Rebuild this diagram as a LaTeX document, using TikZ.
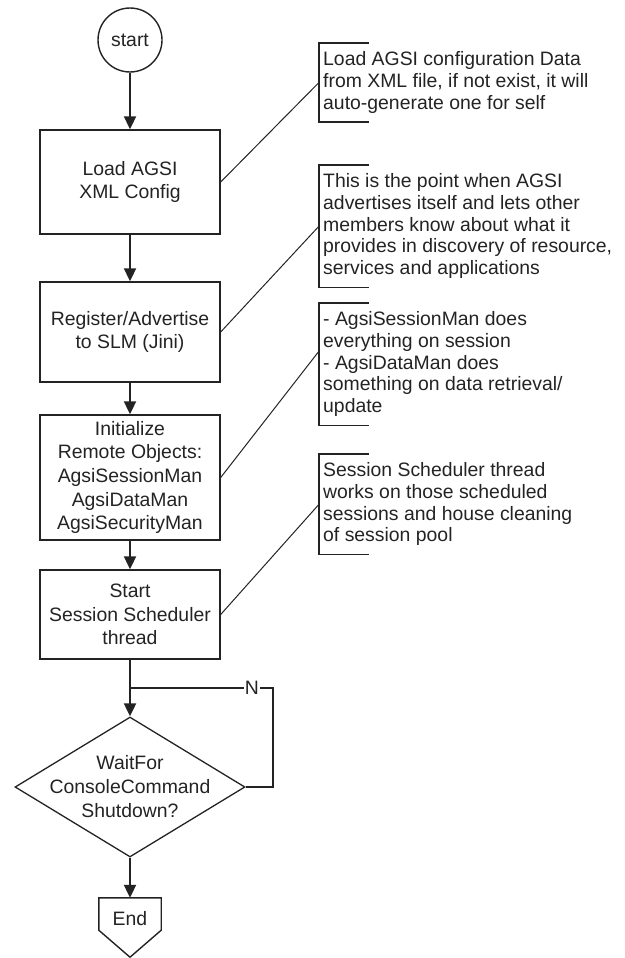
\documentclass[tikz,border=0pt]{standalone}
\usepackage{fontspec}
\setmainfont{Liberation Sans}
\usetikzlibrary{arrows.meta,shapes.geometric,calc}
\definecolor{ink}{RGB}{35,35,35}
\begin{document}
\begin{tikzpicture}[x=1pt,y=-1pt,
  font=\fontsize{19.4}{23.6}\selectfont,
  every node/.style={text=ink},
  proc/.style={draw=ink,line width=1.4pt,minimum width=180pt,align=center,inner sep=0pt},
  flow/.style={draw=ink,line width=2pt,-{Triangle[width=12pt,length=13pt]}},
  plain/.style={draw=ink,line width=1.6pt},
  note/.style={anchor=north west,align=left,inner xsep=4pt,inner ysep=8.5pt,
    font=\fontsize{19.4}{21.7}\selectfont},
  brk/.style={draw=ink,line width=1.4pt},
  lead/.style={draw=ink,line width=1pt}]
\useasboundingbox (0,0) rectangle (624,958);

% main flow
\node[draw=ink,line width=1.4pt,circle,minimum size=64pt,inner sep=0pt] (start) at (130,40) {start};
\node[proc,minimum height=104pt] (b1) at (130,182) {Load AGSI\\XML Config};
\node[proc,minimum height=100pt] (b2) at (130,332) {Register/Advertise\\to SLM (Jini)};
\node[proc,minimum height=125pt] (b3) at (130,477.5) {Initialize\\Remote Objects:\\AgsiSessionMan\\AgsiDataMan\\AgsiSecurityMan};
\node[proc,minimum height=89pt] (b4) at (130,614.5) {Start\\Session Scheduler\\thread};
\node[draw=ink,line width=1.3pt,diamond,minimum width=230pt,minimum height=140pt,
  inner sep=0pt] (dec) at (130,787) {};
\node[align=center,inner sep=0pt,font=\fontsize{19.4}{24}\selectfont] (dectext) at (dec.center) {WaitFor\\ConsoleCommand\\Shutdown?};
\node[minimum width=62pt,minimum height=32pt,inner sep=0pt] (end) at (130,914) {};
\node[inner sep=0pt] (endtext) at (130,919) {End};
\draw[draw=ink,line width=1.4pt,line join=miter]
  (end.north west) -- (end.north east) -- (end.south east)
  -- ($(end.south)+(0,27)$) -- (end.south west) -- cycle;

\draw[flow] (start) -- (b1);
\draw[flow] (b1) -- (b2);
\draw[flow] (b2) -- (b3);
\draw[flow] (b3) -- (b4);
\draw[flow] (b4) -- (dec);
\draw[flow] (dec) -- (end);

% "no" loop back above the decision
\coordinate (join) at (130,688);
\coordinate (loop) at (273,688);
\draw[plain] (dec.east) -| (loop) -- node[pos=0.147,fill=white,inner xsep=1pt,inner ysep=0pt] {N} (join);

% annotations
\node[note] (n1) at (319,43) {Load AGSI configuration Data\\from XML file, if not exist, it will\\auto-generate one for self};
\node[note] (n2) at (319,165) {This is the point when AGSI\\advertises itself and lets other\\members know about what it\\provides in discovery of resource,\\services and applications};
\node[note] (n3) at (319,303) {- AgsiSessionMan does\\everything on session\\- AgsiDataMan does\\something on data retrieval/\\update};
\node[note] (n4) at (319,454) {Session Scheduler thread\\works on those scheduled\\sessions and house cleaning\\of session pool};

\foreach \n in {n1,n2,n3,n4}{
  \draw[brk] ([xshift=50pt]\n.north west) -- (\n.north west) -- (\n.south west) -- ([xshift=50pt]\n.south west);
}
\draw[lead] (b1.east) -- (n1.west);
\draw[lead] (b2.east) -- (n2.west);
\draw[lead] (b3.east) -- ([yshift=13pt]n3.west);
\draw[lead] (b4.east) -- (n4.west);
\end{tikzpicture}
\end{document}
